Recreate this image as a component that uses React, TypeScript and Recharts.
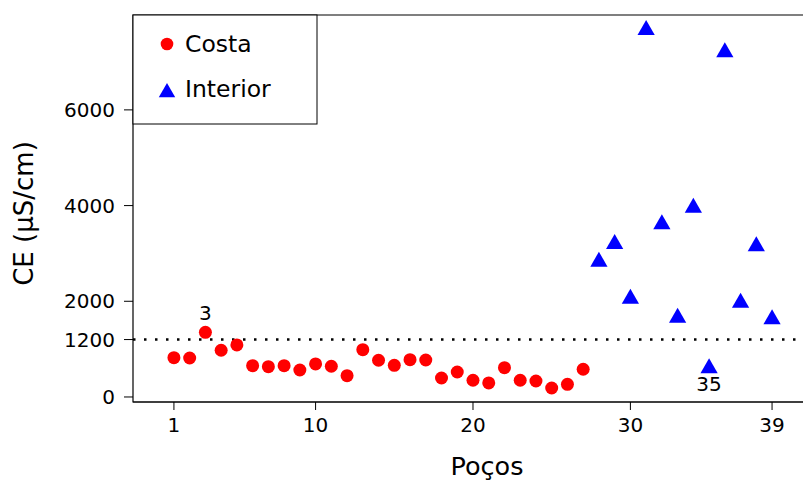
import React from 'react';
import {
  ScatterChart, Scatter, XAxis, YAxis, ReferenceLine, ReferenceArea,
} from 'recharts';

// wells, split by group
const COSTA_WELLS = [1, 2, 3, 4, 5, 6, 7, 8, 9, 10, 11, 12, 13, 14, 15, 16, 17, 18, 19, 20, 21, 22, 23, 24, 25, 26, 27];
const COSTA_CE = [821, 815, 1352, 976, 1087, 654, 633, 654, 564, 690, 642, 445, 988, 767, 662, 780, 773, 397, 522, 349, 293, 612, 349, 334, 188, 265, 579];
const INTERIOR_WELLS = [28, 29, 30, 31, 32, 33, 34, 35, 36, 37, 38, 39];
const INTERIOR_CE = [2828, 3197, 2054, 7670, 3609, 1657, 3956, 600, 7204, 1971, 3149, 1624];

const X_TICKS = [1, 10, 20, 30, 39];
const Y_TICKS = [0, 1200, 2000, 4000, 6000];
const LIMIT = 1200;
const LABELED = [3, 35];

const X_DOMAIN: [number, number] = [-1.6, 43.38];
const Y_DOMAIN: [number, number] = [-105, 7983];

const FONT = '"DejaVu Sans", sans-serif';

const costa = COSTA_WELLS.map((x, i) => ({ x, y: COSTA_CE[i] }));
const interior = INTERIOR_WELLS.map((x, i) => ({ x, y: INTERIOR_CE[i] }));

function Dot(props: any) {
  const { cx, cy, payload } = props;
  return (
    <g>
      <circle cx={cx} cy={cy} r={6.5} fill="#ff0000" />
      {LABELED.includes(payload.x) && (
        <text x={cx} y={cy - 19} textAnchor="middle" dominantBaseline="central"
          fontFamily={FONT} fontSize={20} fill="#000">{payload.x}</text>
      )}
    </g>
  );
}

function triPath(cx: number, cy: number, s: number) {
  const r = 1.555 * s, h = 1.3468 * s, b = 0.7776 * s;
  return `M${cx},${cy - r}L${cx + h},${cy + b}L${cx - h},${cy + b}Z`;
}

function Tri(props: any) {
  const { cx, cy, payload } = props;
  return (
    <g>
      <path d={triPath(cx, cy, 6.4)} fill="#0000ff" />
      {LABELED.includes(payload.x) && (
        <text x={cx} y={cy + 16} textAnchor="middle" dominantBaseline="central"
          fontFamily={FONT} fontSize={20} fill="#000">{payload.x}</text>
      )}
    </g>
  );
}

function LegendBox() {
  return (
    <svg width={186} height={111} style={{ position: 'absolute', left: 132, top: 14 }}>
      <rect x={1} y={1} width={184} height={109} fill="#fff" stroke="#000" strokeWidth={1} />
      <circle cx={35} cy={30} r={6.3} fill="#ff0000" />
      <text x={53} y={30} dominantBaseline="central" fontFamily={FONT} fontSize={23.5} fill="#000">Costa</text>
      <path d={triPath(35, 78.5, 6.1)} fill="#0000ff" />
      <text x={53} y={75} dominantBaseline="central" fontFamily={FONT} fontSize={23.5} fill="#000">Interior</text>
    </svg>
  );
}

export default function App() {
  const tick = { fontFamily: FONT, fontSize: 20, fill: '#000' };
  return (
    <div style={{ position: 'absolute', left: 0, top: 0, width: 803, height: 481, overflow: 'hidden', background: '#fff' }}>
      <ScatterChart width={845} height={481} margin={{ top: 15, right: 4, bottom: 0, left: 0 }}>
        <ReferenceArea x1={X_DOMAIN[0]} x2={X_DOMAIN[1]} y1={Y_DOMAIN[0]} y2={Y_DOMAIN[1]}
          fill="none" stroke="#000" strokeWidth={1.2} />
        <XAxis
          type="number"
          dataKey="x"
          domain={X_DOMAIN}
          allowDataOverflow
          ticks={X_TICKS}
          interval={0}
          height={79}
          tick={tick}
          tickSize={8}
          tickMargin={8}
          axisLine={{ stroke: '#000', strokeWidth: 1.2 }}
          tickLine={{ stroke: '#000' }}
          label={{
            content: (p: any) => (
              <text x={p.viewBox.x + p.viewBox.width / 2} y={p.viewBox.y + 73} textAnchor="middle"
                fontFamily={FONT} fontSize={25.5} fill="#000">Poços</text>
            ),
          }}
        />
        <YAxis
          type="number"
          dataKey="y"
          domain={Y_DOMAIN}
          allowDataOverflow
          ticks={Y_TICKS}
          interval={0}
          width={133}
          tick={tick}
          tickSize={9}
          tickMargin={9}
          axisLine={false}
          tickLine={{ stroke: '#000' }}
          label={{
            content: (p: any) => {
              const cx = p.viewBox.x + 24;
              const cy = p.viewBox.y + p.viewBox.height / 2 + 5;
              return (
                <text x={cx} y={cy} transform={`rotate(-90 ${cx} ${cy})`} textAnchor="middle"
                  dominantBaseline="central" fontFamily={FONT} fontSize={26} fill="#000">CE (µS/cm)</text>
              );
            },
          }}
        />
        <ReferenceLine y={LIMIT} stroke="#000" strokeWidth={2.5} strokeDasharray="2.5 8.5" />
        <Scatter name="Costa" data={costa} shape={<Dot />} isAnimationActive={false} />
        <Scatter name="Interior" data={interior} shape={<Tri />} isAnimationActive={false} />
      </ScatterChart>
      <LegendBox />
    </div>
  );
}
